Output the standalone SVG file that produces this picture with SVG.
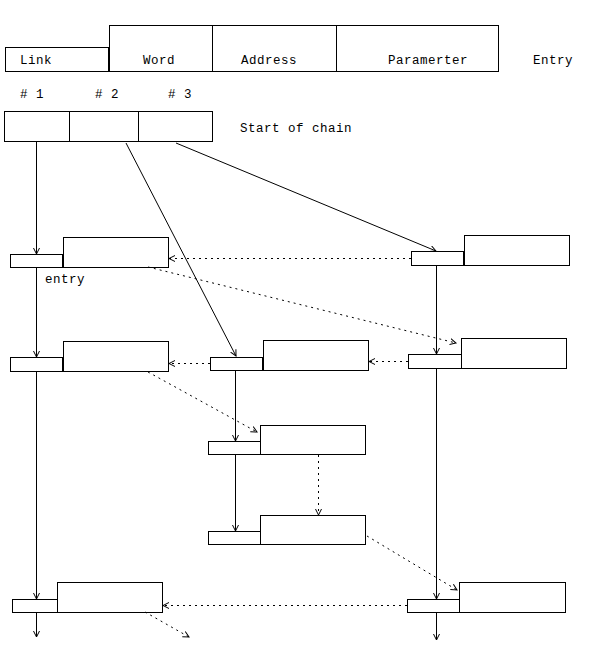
<svg xmlns="http://www.w3.org/2000/svg" width="589" height="661" viewBox="0 0 589 661">
<style>
rect{fill:#fff;stroke:#000;stroke-width:1}
text{font-family:"Liberation Mono","DejaVu Sans Mono",monospace;font-size:12.5px;fill:#000;letter-spacing:0.5px}
.s{stroke:#000;stroke-width:1;fill:none;marker-end:url(#a)}
.d{stroke:#000;stroke-width:1;fill:none;stroke-dasharray:2,4;marker-end:url(#a)}
</style>
<defs>
<marker id="a" markerUnits="userSpaceOnUse" markerWidth="10" markerHeight="10" refX="6" refY="3.5" orient="auto">
<path d="M0,0.5 L6,3.5 L0,6.5" fill="none" stroke="#000" stroke-width="1"/>
</marker>
</defs>
<rect width="589" height="661" style="stroke:none"/>
<g id="header">
<rect x="5.5" y="47.5" width="103" height="24"/>
<rect x="109.5" y="25.5" width="103" height="46"/>
<rect x="212.5" y="25.5" width="124" height="46"/>
<rect x="336.5" y="25.5" width="162" height="46"/>
<text x="20" y="64">Link</text>
<text x="143" y="64">Word</text>
<text x="241" y="64">Address</text>
<text x="388" y="64">Paramerter</text>
<text x="533" y="64">Entry</text>
</g>
<g id="start">
<text x="20" y="98" xml:space="preserve"># 1</text>
<text x="95" y="98" xml:space="preserve"># 2</text>
<text x="168" y="98" xml:space="preserve"># 3</text>
<rect x="4.5" y="111.5" width="65" height="30"/>
<rect x="69.5" y="111.5" width="69" height="30"/>
<rect x="138.5" y="111.5" width="74" height="30"/>
<text x="240" y="132">Start of chain</text>
</g>
<g id="nodeA"><rect x="10.5" y="254.5" width="52" height="13"/><rect x="63.5" y="237.5" width="105" height="30"/><text x="45" y="283">entry</text></g>
<g id="nodeB"><rect x="10.5" y="357.5" width="52" height="14"/><rect x="63.5" y="341.5" width="105" height="30"/></g>
<g id="nodeC"><rect x="411.5" y="251.5" width="52" height="14"/><rect x="464.5" y="235.5" width="105" height="30"/></g>
<g id="nodeD"><rect x="408.5" y="354.5" width="53" height="14"/><rect x="461.5" y="338.5" width="105" height="30"/></g>
<g id="nodeE"><rect x="210.5" y="357.5" width="52" height="13"/><rect x="263.5" y="340.5" width="105" height="30"/></g>
<g id="nodeF"><rect x="208.5" y="441.5" width="52" height="13"/><rect x="260.5" y="425.5" width="105" height="29"/></g>
<g id="nodeG"><rect x="208.5" y="531.5" width="52" height="13"/><rect x="260.5" y="515.5" width="105" height="29"/></g>
<g id="nodeH"><rect x="12.5" y="599.5" width="45" height="13"/><rect x="57.5" y="582.5" width="105" height="30"/></g>
<g id="nodeI"><rect x="407.5" y="599.5" width="52" height="13"/><rect x="459.5" y="582.5" width="106" height="30"/></g>
<g id="connectors">
<path class="s" d="M36.5,142 L36.5,254"/>
<path class="s" d="M126,143 L236,356"/>
<path class="s" d="M176,143 L436,251"/>
<path class="s" d="M36.5,268 L36.5,357"/>
<path class="s" d="M36.5,372 L36.5,599"/>
<path class="s" d="M36.5,613 L36.5,637"/>
<path class="s" d="M436.5,266 L436.5,354"/>
<path class="s" d="M436.5,369 L436.5,599"/>
<path class="s" d="M436.5,613 L436.5,640"/>
<path class="s" d="M235.5,371 L235.5,441"/>
<path class="s" d="M235.5,455 L235.5,531"/>
<path class="d" d="M411,258.5 L169,258.5"/>
<path class="d" d="M148,267 L456,343"/>
<path class="d" d="M408,361.5 L369,361.5"/>
<path class="d" d="M210,363.5 L169,363.5"/>
<path class="d" d="M148,372 L257,432"/>
<path class="d" d="M318.5,455 L318.5,515"/>
<path class="d" d="M367,536 L457,590"/>
<path class="d" d="M407,605.5 L163,605.5"/>
<path class="d" d="M145,612 L189,637"/>
</g>
</svg>
